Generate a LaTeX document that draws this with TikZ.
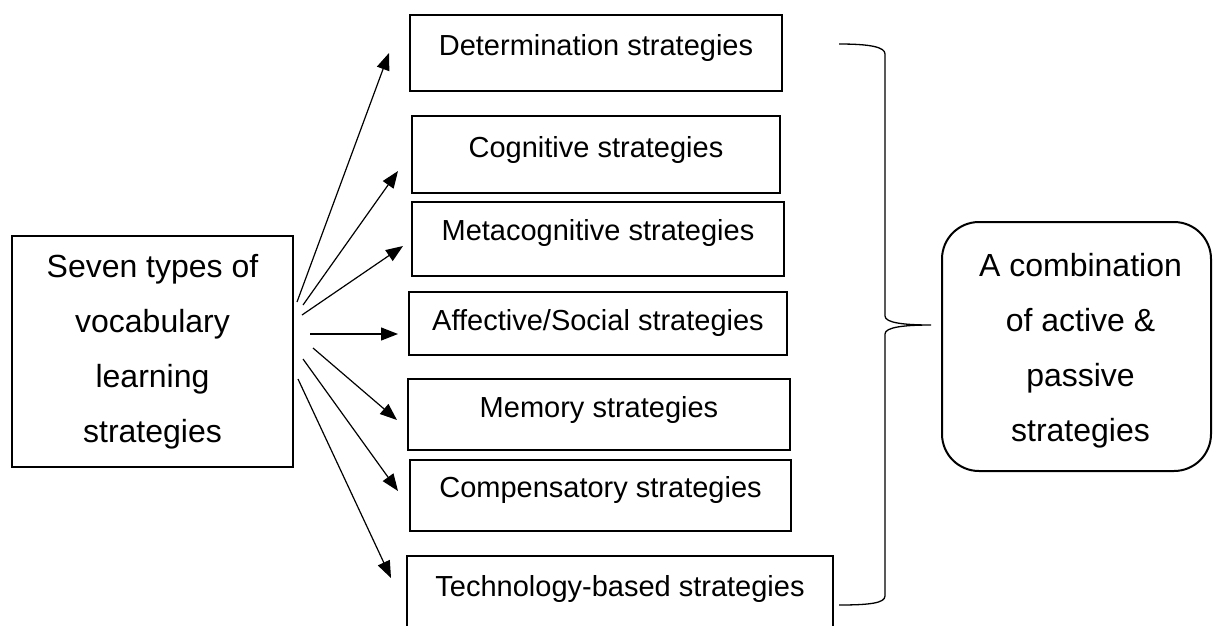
\documentclass[tikz,border=0pt]{standalone}
\usepackage{fontspec}
\setmainfont{Liberation Sans}
\usetikzlibrary{arrows.meta}
\begin{document}
\begin{tikzpicture}[x=1pt,y=-1pt,
  sbox/.style={draw, line width=2pt, anchor=north west, inner sep=0pt},
  stxt/.style={anchor=base, font=\fontsize{29}{34}\selectfont, inner sep=0pt},
  bigbox/.style={draw, line width=2pt, align=center, font=\fontsize{32}{55}\selectfont, inner sep=0pt},
  bigtxt/.style={align=center, font=\fontsize{32}{55}\selectfont, inner sep=0pt},
  arr/.style={line width=1.2pt, -{Triangle[length=17pt,width=13pt]}},
  bracepath/.style={line width=1.3pt}]
\useasboundingbox (0,0) rectangle (1213,625);

% left box
\node[bigbox, minimum width=281pt, minimum height=231pt] (src) at (152.5,351.5)
  {Seven types of\\vocabulary\\learning\\strategies};

% strategy boxes
\node[sbox, minimum width=372pt, minimum height=76pt] (det) at (409,14) {};
\node[stxt] (detT) at ([yshift=-41pt]det.north) {Determination strategies};
\node[sbox, minimum width=368pt, minimum height=77pt] (cog) at (411,115) {};
\node[stxt] (cogT) at ([yshift=-42pt]cog.north) {Cognitive strategies};
\node[sbox, minimum width=372pt, minimum height=74pt] (meta) at (411,201) {};
\node[stxt] (metaT) at ([yshift=-39pt]meta.north) {Metacognitive strategies};
\node[sbox, minimum width=378pt, minimum height=63pt] (aff) at (408,291) {};
\node[stxt] (affT) at ([yshift=-39pt]aff.north) {Affective/Social strategies};
\node[sbox, minimum width=382pt, minimum height=71pt] (mem) at (407,378) {};
\node[stxt] (memT) at ([yshift=-39pt]mem.north) {Memory strategies};
\node[sbox, minimum width=381pt, minimum height=71pt] (comp) at (409,459) {};
\node[stxt] (compT) at ([yshift=-38pt]comp.north) {Compensatory strategies};
\node[sbox, minimum width=426pt, minimum height=80pt] (tech) at (406,555) {};
\node[stxt] (techT) at ([yshift=-41pt]tech.north) {Technology-based strategies};

% right box
\node[draw, line width=2pt, rounded corners=37pt, minimum width=269pt, minimum height=249pt] (comb) at (1076.5,346.5) {};
\node[bigtxt] (combT) at ([xshift=4pt,yshift=-4pt]comb.center)
  {A combination\\of active \&\\passive\\strategies};

% arrow ends
\coordinate (s1) at (297,302); \coordinate (e1) at (389,53);
\coordinate (s2) at (303,305); \coordinate (e2) at (398,171);
\coordinate (s3) at (302,315); \coordinate (e3) at (403,246);
\coordinate (s4) at (310,334); \coordinate (e4) at (398,334);
\coordinate (s5) at (313,348); \coordinate (e5) at (397,420);
\coordinate (s6) at (303,359); \coordinate (e6) at (398,491);
\coordinate (s7) at (298,379); \coordinate (e7) at (391,578);
\draw[arr] (s1) -- (e1);
\draw[arr] (s2) -- (e2);
\draw[arr] (s3) -- (e3);
\draw[arr] (s4) -- (e4);
\draw[arr] (s5) -- (e5);
\draw[arr] (s6) -- (e6);
\draw[arr] (s7) -- (e7);

% brace
\draw[bracepath] (839,44) .. controls (870,44) and (885,47) .. (885,54) -- (885,316)
  .. controls (885,323) and (905,325) .. (931,325)
  .. controls (905,325) and (885,327) .. (885,334) -- (885,596)
  .. controls (885,603) and (870,605) .. (839,605);
\end{tikzpicture}
\end{document}
